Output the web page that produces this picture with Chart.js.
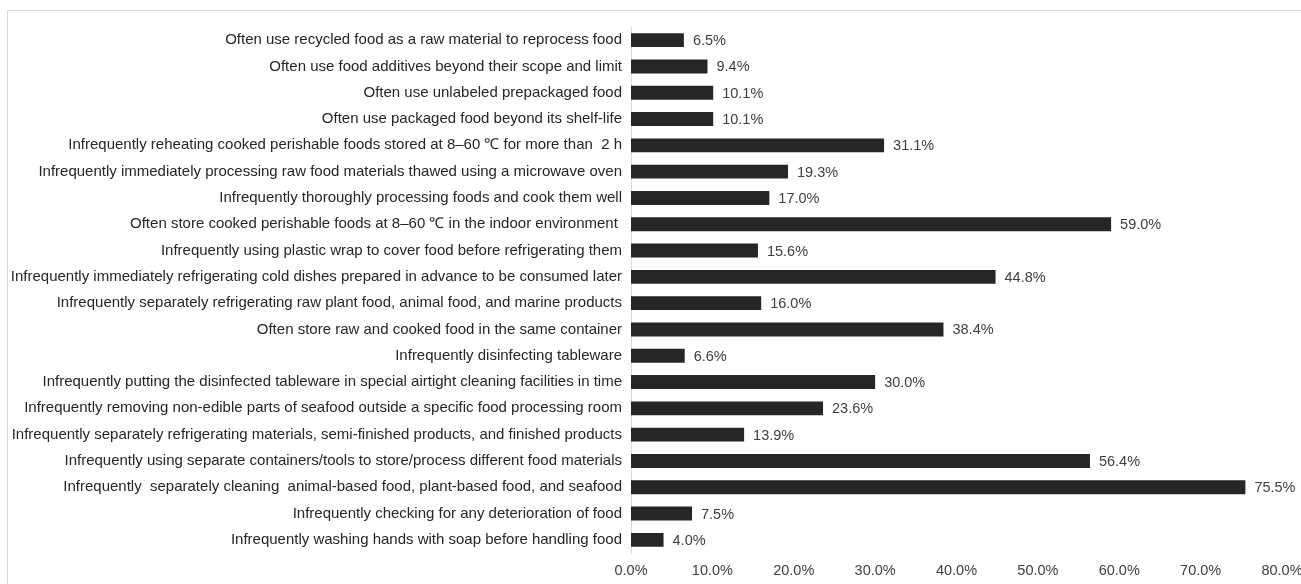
<!DOCTYPE html>
<html>
<head>
<meta charset="utf-8">
<script src="https://cdn.jsdelivr.net/npm/chart.js@4.4.0/dist/chart.umd.min.js"></script>
<style>
  html, body { margin: 0; padding: 0; background: #fff; }
  canvas { display: block; }
</style>
</head>
<body>
<canvas id="chart" width="1301" height="584"></canvas>
<script>
// food safety behaviours, share of respondents (%)
var categories = [
  'Often use recycled food as a raw material to reprocess food',
  'Often use food additives beyond their scope and limit',
  'Often use unlabeled prepackaged food',
  'Often use packaged food beyond its shelf-life',
  'Infrequently reheating cooked perishable foods stored at 8\u201360 \u2103 for more than  2 h',
  'Infrequently immediately processing raw food materials thawed using a microwave oven',
  'Infrequently thoroughly processing foods and cook them well',
  'Often store cooked perishable foods at 8\u201360 \u2103 in the indoor environment ',
  'Infrequently using plastic wrap to cover food before refrigerating them',
  'Infrequently immediately refrigerating cold dishes prepared in advance to be consumed later',
  'Infrequently separately refrigerating raw plant food, animal food, and marine products',
  'Often store raw and cooked food in the same container',
  'Infrequently disinfecting tableware',
  'Infrequently putting the disinfected tableware in special airtight cleaning facilities in time',
  'Infrequently removing non-edible parts of seafood outside a specific food processing room',
  'Infrequently separately refrigerating materials, semi-finished products, and finished products',
  'Infrequently using separate containers/tools to store/process different food materials',
  'Infrequently  separately cleaning  animal-based food, plant-based food, and seafood',
  'Infrequently checking for any deterioration of food',
  'Infrequently washing hands with soap before handling food'
];
var values = [6.5, 9.4, 10.1, 10.1, 31.1, 19.3, 17.0, 59.0, 15.6, 44.8, 16.0, 38.4, 6.6, 30.0, 23.6, 13.9, 56.4, 75.5, 7.5, 4.0];
var xTicks = [0, 10, 20, 30, 40, 50, 60, 70, 80];

var FONT = 'Liberation Sans, Arial, sans-serif';

// thin frame like the original chart box
var framePlugin = {
  id: 'frame',
  beforeDraw: function(chart) {
    var c = chart.ctx;
    c.save();
    c.strokeStyle = '#d9d9d9';
    c.lineWidth = 1;
    c.beginPath();
    c.moveTo(7.5, chart.height);
    c.lineTo(7.5, 10.5);
    c.lineTo(chart.width, 10.5);
    c.stroke();
    c.restore();
  }
};

// value labels at the end of each bar
var valueLabels = {
  id: 'valueLabels',
  afterDatasetsDraw: function(chart) {
    var c = chart.ctx;
    var meta = chart.getDatasetMeta(0);
    c.save();
    c.font = '14.5px ' + FONT;
    c.fillStyle = '#404040';
    c.textAlign = 'left';
    c.textBaseline = 'middle';
    meta.data.forEach(function(bar, i) {
      c.fillText(values[i].toFixed(1) + '%', bar.x + 9, bar.y + 1);
    });
    c.restore();
  }
};

new Chart(document.getElementById('chart'), {
  type: 'bar',
  data: {
    labels: categories,
    datasets: [{
      data: values,
      backgroundColor: '#262626',
      borderWidth: 0,
      barPercentage: 0.53,
      categoryPercentage: 1
    }]
  },
  options: {
    indexAxis: 'y',
    responsive: false,
    animation: false,
    layout: { padding: { top: 27, right: 19, left: 0, bottom: 0 } },
    plugins: { legend: { display: false }, tooltip: { enabled: false } },
    scales: {
      x: {
        min: 0,
        max: 80,
        afterBuildTicks: function(scale) {
          scale.ticks = xTicks.map(function(v) { return { value: v }; });
        },
        afterFit: function(scale) {
          scale.height = 31;
          scale.paddingLeft = 0;
          scale.paddingRight = 0;
        },
        grid: { display: false, drawTicks: false },
        border: { display: false },
        ticks: {
          padding: 9,
          color: '#404040',
          font: { family: FONT, size: 14.5 },
          maxRotation: 0,
          callback: function(v) { return v.toFixed(1) + '%'; }
        }
      },
      y: {
        afterFit: function(scale) {
          scale.width = 631;
          scale.paddingTop = 0;
          scale.paddingBottom = 0;
        },
        grid: { display: false, drawTicks: false },
        border: { display: true, color: '#d9d9d9', width: 1 },
        ticks: {
          padding: 9,
          color: '#262626',
          autoSkip: false,
          font: { family: FONT, size: 15 }
        }
      }
    }
  },
  plugins: [framePlugin, valueLabels]
});
</script>
</body>
</html>
